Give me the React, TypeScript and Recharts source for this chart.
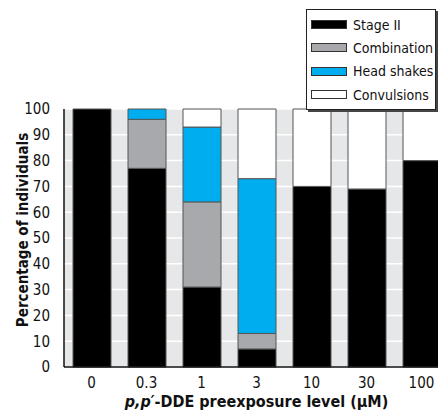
import { Bar, BarChart, CartesianGrid, XAxis, YAxis } from "recharts"

const levels = ["0", "0.3", "1", "3", "10", "30", "100"]
const stageII = [100, 77, 31, 7, 70, 69, 80]
const combination = [0, 19, 33, 6, 0, 0, 0]
const headShakes = [0, 4, 29, 60, 0, 0, 0]
const convulsions = [0, 0, 7, 27, 30, 31, 20]
const yTicks = [0, 10, 20, 30, 40, 50, 60, 70, 80, 90, 100]

const series = [
  { key: "stageII", name: "Stage II", fill: "#000000" },
  { key: "combination", name: "Combination", fill: "#a7a9ac" },
  { key: "headShakes", name: "Head shakes", fill: "#00aeef" },
  { key: "convulsions", name: "Convulsions", fill: "#ffffff" },
]

const data = levels.map((name, i) => ({
  name,
  stageII: stageII[i],
  combination: combination[i],
  headShakes: headShakes[i],
  convulsions: convulsions[i],
}))

const font = "'Liberation Sans Narrow', 'DejaVu Sans Condensed', 'Roboto', sans-serif"

// legend drawn as plain html so it does not eat into the plot area
const LegendBox = () => (
  <div
    style={{
      position: "absolute",
      left: 306,
      top: 9,
      border: "1px solid #222",
      boxShadow: "2px 2px 0 #444",
      background: "#fff",
      padding: "3px 0 3px 4px",
      fontFamily: font,
      fontSize: 14,
      color: "#111",
      width: 124,
    }}
  >
    {series.map((s) => (
      <div key={s.key} style={{ display: "flex", alignItems: "center", height: 23.3 }}>
        <span
          style={{
            display: "inline-block",
            width: 34,
            height: 7,
            background: s.fill,
            border: "1px solid #333",
            marginRight: 6,
          }}
        />
        <span>{s.name}</span>
      </div>
    ))}
  </div>
)

const XLabel = ({ viewBox }: any) => {
  const cx = viewBox.x + viewBox.width / 2
  return (
    <text x={cx} y={407} textAnchor="middle" fontFamily={font} fontSize={16} fontWeight="bold" fill="#111">
      <tspan fontStyle="italic">p,p′</tspan>
      <tspan>-DDE preexposure level (μM)</tspan>
    </text>
  )
}

const YLabel = () => (
  <text
    x={23}
    y={230}
    transform="rotate(-90 23 230)"
    textAnchor="middle"
    dominantBaseline="central"
    fontFamily={font}
    fontSize={15}
    fontWeight="bold"
    fill="#111"
  >
    Percentage of individuals
  </text>
)

export default function App() {
  return (
    <div style={{ position: "fixed", left: 0, top: 0, width: 438, height: 415, overflow: "hidden", background: "#fff" }}>
      <BarChart width={452} height={415} data={data} margin={{ top: 109, right: 3, bottom: 0, left: 0 }}>
        <CartesianGrid vertical={false} fill="#e6e7e8" stroke="#ffffff" strokeWidth={1.5} />
        <XAxis
          dataKey="name"
          height={48}
          tickLine={false}
          axisLine={{ stroke: "#111", strokeWidth: 1.5 }}
          tick={{ fontFamily: font, fontSize: 15, fill: "#111" }}
          tickMargin={4}
          label={<XLabel />}
        />
        <YAxis
          width={64}
          domain={[0, 100]}
          ticks={yTicks}
          interval={0}
          tickLine={false}
          axisLine={{ stroke: "#111", strokeWidth: 1.5 }}
          tick={{ fontFamily: font, fontSize: 15, fill: "#111" }}
          tickMargin={8}
          label={<YLabel />}
        />
        {series.map((s) => (
          <Bar
            key={s.key}
            dataKey={s.key}
            name={s.name}
            stackId="a"
            fill={s.fill}
            stroke="#555"
            strokeWidth={1}
            barSize={38}
            isAnimationActive={false}
          />
        ))}
      </BarChart>
      <LegendBox />
    </div>
  )
}
